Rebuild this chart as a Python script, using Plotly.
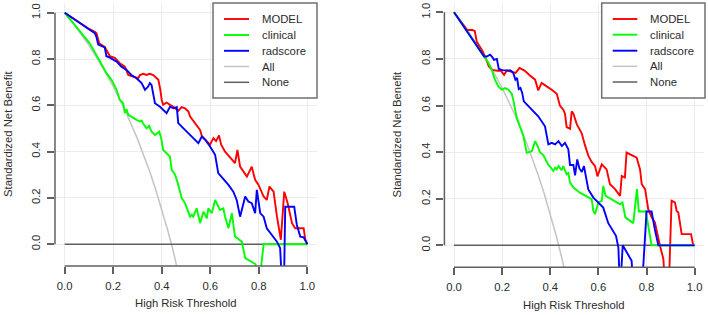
import plotly.graph_objects as go

W, H = 708, 315

# ---------------- data ----------------
series_names = ["MODEL", "clinical", "radscore", "All", "None"]
series_colors = ["#FF0000", "#00FF00", "#0000FF", "#C4C4C4", "#5E5E5E"]
tick_vals = [0.0, 0.2, 0.4, 0.6, 0.8, 1.0]
tick_text = ["0.0", "0.2", "0.4", "0.6", "0.8", "1.0"]
x_title = "High Risk Threshold"
y_title = "Standardized Net Benefit"

# ---- left panel ----
left_model_t = [0, 0.048, 0.076, 0.096, 0.124, 0.131, 0.142, 0.165, 0.186, 0.207, 0.227, 0.248, 0.262,
                0.282, 0.303, 0.310, 0.324, 0.337, 0.351, 0.365, 0.372, 0.386, 0.393, 0.400, 0.406, 0.420,
                0.434, 0.448, 0.468, 0.482, 0.496, 0.510, 0.517, 0.537, 0.558, 0.565, 0.579, 0.599, 0.613,
                0.624, 0.636, 0.645, 0.661, 0.682, 0.702, 0.712, 0.723, 0.751, 0.771, 0.785, 0.799, 0.820,
                0.833, 0.844, 0.861, 0.875, 0.891, 0.905, 0.919, 0.937, 0.950, 0.985, 0.992, 1.0]
left_model_nb = [1.0, 0.966, 0.947, 0.933, 0.918, 0.911, 0.868, 0.852, 0.812, 0.805, 0.782, 0.767, 0.731,
                 0.724, 0.717, 0.731, 0.736, 0.731, 0.736, 0.731, 0.724, 0.710, 0.674, 0.623, 0.602, 0.612,
                 0.602, 0.594, 0.576, 0.592, 0.587, 0.573, 0.551, 0.525, 0.494, 0.468, 0.451, 0.430, 0.458,
                 0.445, 0.470, 0.430, 0.400, 0.375, 0.350, 0.407, 0.335, 0.292, 0.335, 0.278, 0.256, 0.206,
                 0.191, 0.249, 0.227, 0.119, 0.019, 0.227, 0.177, 0.091, 0.069, 0.069, 0.019, 0.0]

left_clin_t = [0, 0.05, 0.103, 0.145, 0.172, 0.193, 0.214, 0.227, 0.241, 0.248, 0.255, 0.262, 0.282, 0.296,
               0.310, 0.317, 0.324, 0.337, 0.348, 0.358, 0.372, 0.390, 0.399, 0.406, 0.420, 0.434, 0.441,
               0.455, 0.468, 0.482, 0.496, 0.510, 0.517, 0.524, 0.530, 0.544, 0.558, 0.572, 0.586, 0.592,
               0.606, 0.620, 0.634, 0.640, 0.654, 0.661, 0.675, 0.689, 0.702, 0.723, 0.730, 0.744, 0.785,
               0.806, 0.820, 1.0]
left_clin_nb = [1.0, 0.935, 0.868, 0.790, 0.739, 0.710, 0.667, 0.623, 0.609, 0.566, 0.583, 0.559, 0.544,
                0.537, 0.530, 0.534, 0.520, 0.501, 0.511, 0.486, 0.472, 0.486, 0.451, 0.407, 0.393, 0.378,
                0.321, 0.300, 0.257, 0.200, 0.177, 0.134, 0.119, 0.127, 0.119, 0.155, 0.091, 0.141, 0.112,
                0.155, 0.134, 0.191, 0.155, 0.148, 0.155, 0.119, 0.069, 0.134, 0.033, 0.019, 0.011, -0.060,
                -0.085, -0.130, 0.0, 0.0]

left_rad_t = [0, 0.048, 0.076, 0.096, 0.124, 0.131, 0.138, 0.165, 0.172, 0.186, 0.214, 0.234, 0.255, 0.275,
              0.296, 0.317, 0.331, 0.344, 0.351, 0.358, 0.372, 0.393, 0.420, 0.434, 0.448, 0.462, 0.468,
              0.503, 0.530, 0.551, 0.565, 0.579, 0.599, 0.620, 0.633, 0.654, 0.675, 0.695, 0.709, 0.723,
              0.744, 0.757, 0.771, 0.785, 0.792, 0.806, 0.820, 0.833, 0.854, 0.875, 0.888, 0.902, 0.909,
              0.946, 0.957, 0.971, 0.985, 1.0]
left_rad_nb = [1.0, 0.965, 0.945, 0.930, 0.912, 0.895, 0.862, 0.850, 0.812, 0.806, 0.789, 0.767, 0.753,
               0.731, 0.717, 0.696, 0.667, 0.681, 0.696, 0.688, 0.609, 0.594, 0.566, 0.594, 0.587, 0.592,
               0.523, 0.486, 0.458, 0.436, 0.465, 0.451, 0.422, 0.386, 0.307, 0.282, 0.256, 0.227, 0.191,
               0.119, 0.206, 0.184, 0.177, 0.134, 0.235, 0.134, 0.119, 0.069, 0.040, 0.011, -0.017, -0.300,
               0.162, 0.162, 0.083, 0.033, 0.030, 0.0]

left_all_t = [0, 0.05, 0.1, 0.15, 0.2, 0.25, 0.3, 0.325, 0.35, 0.375, 0.4, 0.425, 0.45, 0.475, 0.5]
left_all_nb = [1.0, 0.933, 0.859, 0.775, 0.682, 0.576, 0.455, 0.387, 0.315, 0.236, 0.152, 0.059, -0.041,
               -0.152, -0.273]

# ---- right panel ----
right_model_t = [0, 0.049, 0.055, 0.076, 0.086, 0.095, 0.118, 0.128, 0.138, 0.145, 0.159, 0.180, 0.194,
                 0.208, 0.219, 0.240, 0.256, 0.272, 0.293, 0.314, 0.337, 0.350, 0.364, 0.385, 0.406, 0.427,
                 0.440, 0.454, 0.461, 0.468, 0.482, 0.489, 0.496, 0.510, 0.520, 0.531, 0.544, 0.558, 0.572,
                 0.586, 0.596, 0.614, 0.634, 0.648, 0.669, 0.690, 0.697, 0.710, 0.717, 0.731, 0.759, 0.773,
                 0.780, 0.794, 0.801, 0.807, 0.821, 0.835, 0.856, 0.870, 0.878, 0.892, 0.904, 0.918, 0.925,
                 0.932, 0.946, 0.985, 0.994]
right_model_nb = [1.0, 0.932, 0.924, 0.924, 0.920, 0.872, 0.835, 0.812, 0.782, 0.768, 0.753, 0.749, 0.750,
                  0.732, 0.750, 0.746, 0.740, 0.761, 0.750, 0.730, 0.711, 0.665, 0.697, 0.682, 0.668, 0.650,
                  0.600, 0.582, 0.565, 0.507, 0.500, 0.575, 0.565, 0.520, 0.502, 0.480, 0.430, 0.385, 0.358,
                  0.340, 0.296, 0.348, 0.326, 0.262, 0.241, 0.212, 0.298, 0.291, 0.398, 0.390, 0.376, 0.326,
                  0.262, 0.241, 0.198, 0.155, 0.120, 0.098, -0.002, -0.059, -0.200, -0.200, 0.191, 0.184,
                  0.148, 0.141, 0.048, 0.048, 0.0]

right_clin_t = [0, 0.125, 0.143, 0.157, 0.170, 0.184, 0.198, 0.212, 0.226, 0.240, 0.246, 0.260, 0.274,
                0.288, 0.302, 0.323, 0.337, 0.344, 0.357, 0.371, 0.392, 0.399, 0.413, 0.420, 0.427, 0.434,
                0.447, 0.454, 0.468, 0.475, 0.482, 0.496, 0.523, 0.558, 0.572, 0.579, 0.586, 0.600, 0.614,
                0.620, 0.630, 0.690, 0.700, 0.712, 0.745, 0.760, 0.768, 0.797, 0.821, 1.0]
right_clin_nb = [1.0, 0.810, 0.782, 0.753, 0.711, 0.682, 0.668, 0.675, 0.668, 0.650, 0.625, 0.550, 0.505,
                 0.470, 0.397, 0.404, 0.447, 0.433, 0.400, 0.387, 0.345, 0.338, 0.319, 0.333, 0.326, 0.340,
                 0.322, 0.340, 0.305, 0.310, 0.269, 0.248, 0.226, 0.205, 0.198, 0.148, 0.134, 0.184, 0.191,
                 0.255, 0.212, 0.176, 0.184, 0.120, 0.095, 0.241, 0.145, 0.145, 0.0, 0.0]

right_rad_t = [0, 0.125, 0.136, 0.150, 0.159, 0.166, 0.178, 0.186, 0.201, 0.235, 0.246, 0.255, 0.262,
               0.269, 0.276, 0.283, 0.290, 0.309, 0.329, 0.350, 0.378, 0.392, 0.406, 0.420, 0.434, 0.448,
               0.461, 0.475, 0.482, 0.496, 0.503, 0.512, 0.521, 0.531, 0.540, 0.548, 0.558, 0.579, 0.600,
               0.620, 0.641, 0.662, 0.673, 0.683, 0.690, 0.701, 0.717, 0.738, 0.745, 0.780, 0.800, 0.821,
               0.835, 0.849, 1.0]
right_rad_nb = [1.0, 0.810, 0.810, 0.818, 0.808, 0.796, 0.800, 0.757, 0.752, 0.750, 0.740, 0.711, 0.718,
                0.670, 0.675, 0.655, 0.618, 0.597, 0.575, 0.554, 0.511, 0.433, 0.440, 0.433, 0.447, 0.426,
                0.440, 0.412, 0.345, 0.345, 0.300, 0.369, 0.330, 0.315, 0.340, 0.300, 0.240, 0.205, 0.184,
                0.162, 0.095, 0.063, 0.041, -0.010, -0.200, 0.0, -0.030, -0.066, -0.200, -0.200, 0.145,
                0.145, 0.066, 0.0, 0.0]

right_all_t = [0, 0.05, 0.1, 0.15, 0.2, 0.25, 0.3, 0.325, 0.35, 0.375, 0.4, 0.425, 0.45, 0.475, 0.5]
right_all_nb = [1.0, 0.932, 0.856, 0.771, 0.675, 0.567, 0.443, 0.375, 0.301, 0.221, 0.134, 0.040, -0.063,
                -0.175, -0.299]

none_t = [0.0, 1.0]
none_nb = [0.0, 0.0]

# ---------------- layout helpers (pixel geometry) ----------------
FONT = "Liberation Sans, Arial, sans-serif"
FS = 11.3
AXIS_COL = "#606060"
TEXT_COL = "#2b2b2b"


def fx(px):
    return px / W


def fy(py):
    return 1 - py / H


panels = [
    dict(xa="x", ya="y", xdom=(55.0, 317.0), ydom=(3.0, 266.0),
         box=(213.0, 3.0, 317.0, 98.0), seg=(224.0, 249.0), txt=259.5,
         rows=[19.0, 35.0, 50.8, 66.5, 82.3], ytitle_x=7.5, xtitle_y=303.0,
         series=[(left_model_t, left_model_nb), (left_clin_t, left_clin_nb),
                 (left_rad_t, left_rad_nb), (left_all_t, left_all_nb), (none_t, none_nb)]),
    dict(xa="x2", ya="y2", xdom=(444.4, 704.3), ydom=(2.5, 267.3),
         box=(601.7, 3.0, 705.0, 98.0), seg=(612.7, 637.3), txt=647.5,
         rows=[19.0, 34.7, 50.7, 66.3, 82.0], ytitle_x=396.5, xtitle_y=304.5,
         series=[(right_model_t, right_model_nb), (right_clin_t, right_clin_nb),
                 (right_rad_t, right_rad_nb), (right_all_t, right_all_nb), (none_t, none_nb)]),
]

fig = go.Figure()
shapes = []
annotations = []
layout_axes = {}

draw_order = [3, 4, 0, 1, 2]  # All, None first, then the models

for i, p in enumerate(panels):
    for k in draw_order:
        t, nb = p["series"][k]
        fig.add_trace(go.Scatter(
            x=t, y=nb, mode="lines", name=series_names[k], showlegend=False,
            line=dict(color=series_colors[k], width=1.9 if k < 3 else 1.5),
            xaxis=p["xa"], yaxis=p["ya"], hoverinfo="x+y+name"))

    xkey = "xaxis" if i == 0 else "xaxis2"
    ykey = "yaxis" if i == 0 else "yaxis2"
    layout_axes[xkey] = dict(
        domain=[fx(p["xdom"][0]), fx(p["xdom"][1])], range=[-0.04, 1.04],
        anchor=p["ya"], tickvals=tick_vals, ticktext=tick_text, ticks="outside",
        ticklen=7, tickwidth=1.5, tickcolor=AXIS_COL, showline=False, zeroline=False,
        showgrid=True, gridcolor="#ECECEC", gridwidth=1, ticklabelstandoff=2,
        tickfont=dict(family=FONT, size=FS, color=TEXT_COL), automargin=False)
    layout_axes[ykey] = dict(
        domain=[fy(p["ydom"][1]), fy(p["ydom"][0])], range=[-0.0942, 1.042],
        anchor=p["xa"], tickvals=tick_vals, ticktext=tick_text, ticks="outside",
        ticklen=7, tickwidth=1.5, tickcolor=AXIS_COL, showline=False, zeroline=False,
        showgrid=True, gridcolor="#ECECEC", gridwidth=1, tickangle=-90, ticklabelstandoff=2,
        tickfont=dict(family=FONT, size=FS, color=TEXT_COL), automargin=False)

    # R-style axis lines spanning first to last tick
    shapes.append(dict(type="line", xref=p["xa"], yref="paper", x0=0, x1=1,
                       y0=fy(p["ydom"][1]), y1=fy(p["ydom"][1]),
                       line=dict(color=AXIS_COL, width=1.5)))
    shapes.append(dict(type="line", xref="paper", yref=p["ya"], x0=fx(p["xdom"][0]),
                       x1=fx(p["xdom"][0]), y0=0, y1=1,
                       line=dict(color=AXIS_COL, width=1.5)))

    # axis titles
    cx = (p["xdom"][0] + p["xdom"][1]) / 2
    cy = (p["ydom"][0] + p["ydom"][1]) / 2
    annotations.append(dict(text=x_title, xref="paper", yref="paper", x=fx(cx), y=fy(p["xtitle_y"]),
                            xanchor="center", yanchor="middle", showarrow=False,
                            font=dict(family=FONT, size=FS, color=TEXT_COL)))
    annotations.append(dict(text=y_title, xref="paper", yref="paper", x=fx(p["ytitle_x"]), y=fy(cy),
                            xanchor="center", yanchor="middle", textangle=-90, showarrow=False,
                            font=dict(family=FONT, size=FS, color=TEXT_COL)))

    # legend box
    bx0, by0, bx1, by1 = p["box"]
    shapes.append(dict(type="rect", xref="paper", yref="paper", x0=fx(bx0), x1=fx(bx1),
                       y0=fy(by1), y1=fy(by0), fillcolor="white",
                       line=dict(color="#707070", width=1.5), layer="above"))
    for k, name in enumerate(series_names):
        ry = p["rows"][k]
        shapes.append(dict(type="line", xref="paper", yref="paper", x0=fx(p["seg"][0]), x1=fx(p["seg"][1]),
                           y0=fy(ry), y1=fy(ry), layer="above",
                           line=dict(color=series_colors[k], width=1.9 if k < 3 else 1.5)))
        annotations.append(dict(text=name, xref="paper", yref="paper", x=fx(p["txt"]), y=fy(ry),
                                xanchor="left", yanchor="middle", showarrow=False,
                                font=dict(family=FONT, size=FS, color=TEXT_COL)))

fig.update_layout(
    width=W, height=H, margin=dict(l=0, r=0, t=0, b=0),
    paper_bgcolor="white", plot_bgcolor="white", showlegend=False,
    shapes=shapes, annotations=annotations, **layout_axes)

fig.write_html("out.html", config={"displayModeBar": False},
               post_script="document.body.style.margin='0px';document.body.style.padding='0px';")
